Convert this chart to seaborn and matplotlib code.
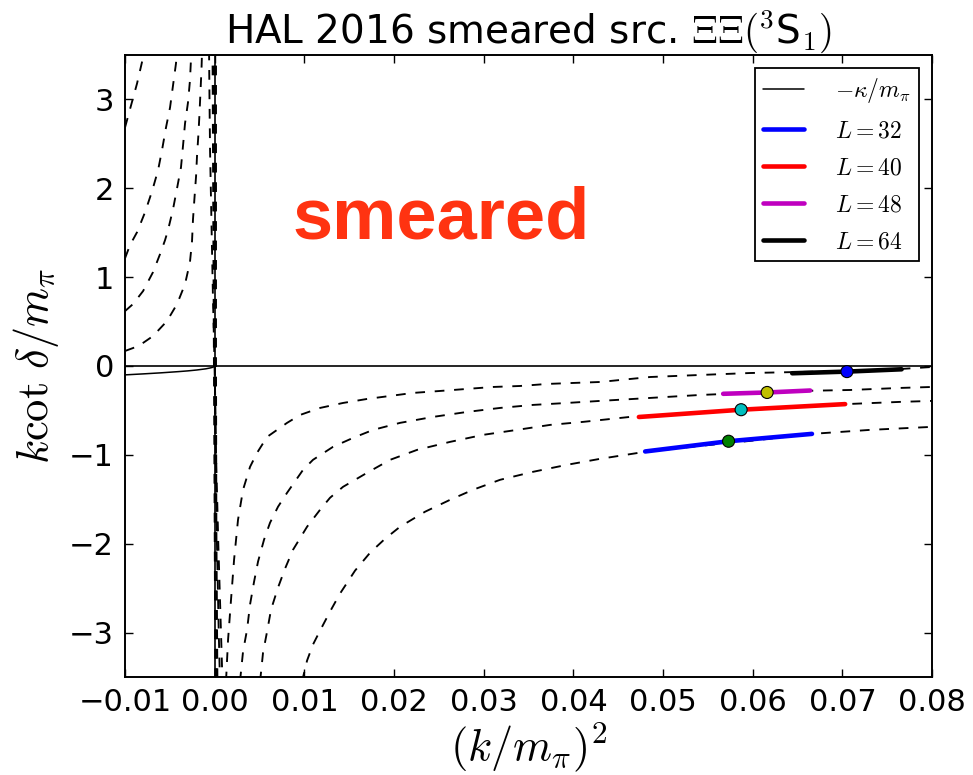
import matplotlib
matplotlib.use("Agg")
import matplotlib.pyplot as plt
import seaborn as sns

# ---------------- data ----------------
# -kappa/m_pi line (x<0)
kappa_x = [-0.010, -0.008, -0.006, -0.004, -0.003, -0.002, -0.001, -0.0005, -0.0002, 0.0]
kappa_y = [-0.100, -0.089, -0.077, -0.063, -0.055, -0.045, -0.032, -0.022, -0.014, 0.0]

# Luscher curves, branch left of the pole (x<0)
l32_left_x = [-0.0100, -0.00933, -0.00866, -0.00799, -0.00777]
l32_left_y = [2.685, 2.933, 3.180, 3.472, 3.55]
l40_left_x = [-0.0100, -0.00945, -0.00866, -0.00777, -0.00699, -0.00632, -0.00588,
              -0.00543, -0.00498, -0.00465, -0.00432, -0.00420]
l40_left_y = [1.213, 1.360, 1.506, 1.730, 1.966, 2.202, 2.427, 2.685, 2.910, 3.157, 3.404, 3.55]
l48_left_x = [-0.0100, -0.00911, -0.00799, -0.00688, -0.00610, -0.00554, -0.00521, -0.00465,
              -0.00420, -0.00376, -0.00353, -0.00331, -0.00298, -0.00276, -0.00260]
l48_left_y = [0.618, 0.697, 0.843, 1.056, 1.258, 1.416, 1.528, 1.764, 2.0, 2.236, 2.483,
              2.730, 2.966, 3.213, 3.55]
l64_left_x = [-0.0100, -0.00911, -0.00833, -0.00688, -0.00532, -0.00420, -0.00331, -0.00276,
              -0.00253, -0.00242, -0.00225, -0.00208, -0.00197, -0.00181, -0.00169, -0.00158,
              -0.00147, -0.00141]
l64_left_y = [0.169, 0.202, 0.236, 0.337, 0.506, 0.697, 0.921, 1.169, 1.404, 1.652, 1.899,
              2.135, 2.371, 2.618, 2.854, 3.101, 3.348, 3.55]
lxx_left_x = [-0.00063, -0.00058, -0.00052, -0.00041, -0.00030, -0.00019, -0.00007, -0.00002]
lxx_left_y = [3.55, 2.989, 2.427, 1.865, 1.303, 0.742, 0.236, 0.0]

# near-vertical pieces at the pole x = 0
pole1_x = [-0.00018, -0.00010, -0.00002, 0.00006, 0.00014]
pole2_x = [0.00008, 0.00008, 0.00008, 0.00012, 0.00024]
pole_y = [3.6, 1.8, 0.0, -1.8, -3.6]
steep1_x = [0.0000, 0.00010, 0.00025, 0.00045, 0.00060]
steep2_x = [0.0000, 0.00015, 0.00040, 0.00070, 0.00088]
steep_y = [0.0, -1.0, -2.0, -3.0, -3.6]

# Luscher curves, branch right of the pole (x>0)
l32_right_x = [0.00974, 0.01030, 0.01096, 0.01175, 0.01286, 0.01397, 0.01565, 0.01733, 0.01900,
               0.02067, 0.02346, 0.02625, 0.02881, 0.03182, 0.03550, 0.03929, 0.04297, 0.04799,
               0.05413, 0.05970, 0.06662, 0.07309, 0.08000]
l32_right_y = [-3.55, -3.315, -3.135, -2.978, -2.764, -2.562, -2.303, -2.101, -1.944, -1.809,
               -1.640, -1.506, -1.393, -1.281, -1.191, -1.112, -1.045, -0.966, -0.899, -0.843,
               -0.764, -0.719, -0.685]
l40_right_x = [0.00506, 0.00539, 0.00584, 0.00628, 0.00706, 0.00784, 0.00874, 0.01030, 0.01175,
               0.01286, 0.01431, 0.01699, 0.01956, 0.02257, 0.02625, 0.02993, 0.03372, 0.03740,
               0.04108, 0.04632, 0.04855, 0.05413, 0.05970, 0.06528, 0.07086, 0.07643, 0.08000]
l40_right_y = [-3.55, -3.225, -2.989, -2.742, -2.494, -2.281, -2.067, -1.809, -1.618, -1.483,
               -1.360, -1.202, -1.056, -0.944, -0.854, -0.775, -0.719, -0.663, -0.629, -0.573,
               -0.562, -0.528, -0.494, -0.461, -0.427, -0.404, -0.393]
l48_right_x = [0.00282, 0.00316, 0.00361, 0.00394, 0.00439, 0.00483, 0.00550, 0.00617, 0.00706,
               0.00807, 0.00985, 0.01096, 0.01319, 0.01543, 0.01767, 0.02067, 0.02435, 0.02814,
               0.03182, 0.03550, 0.03929, 0.04297, 0.04665, 0.05045, 0.05413, 0.05970, 0.06528,
               0.07086, 0.07643, 0.08000]
l48_right_y = [-3.55, -3.213, -2.966, -2.685, -2.427, -2.202, -1.955, -1.764, -1.584, -1.427,
               -1.169, -1.056, -0.910, -0.809, -0.719, -0.640, -0.573, -0.517, -0.472, -0.438,
               -0.416, -0.393, -0.371, -0.348, -0.326, -0.303, -0.281, -0.270, -0.247, -0.236]
l64_right_x = [0.00126, 0.00149, 0.00182, 0.00216, 0.00260, 0.00316, 0.00394, 0.00472, 0.00584,
               0.00807, 0.00952, 0.01175, 0.01431, 0.01699, 0.01956, 0.02212, 0.02513, 0.02814,
               0.03104, 0.03405, 0.03706, 0.03996, 0.04297, 0.04855, 0.05413, 0.05970, 0.06528,
               0.07086, 0.07643, 0.08000]
l64_right_y = [-3.55, -3.079, -2.629, -2.180, -1.730, -1.393, -1.135, -0.978, -0.798, -0.640,
               -0.551, -0.472, -0.416, -0.371, -0.337, -0.303, -0.281, -0.258, -0.236, -0.225,
               -0.202, -0.191, -0.180, -0.124, -0.101, -0.079, -0.067, -0.056, -0.034, -0.011]

# lattice results: fit-range bands (lo, central, hi) and central points
band32_x = [0.0480, 0.0573, 0.0666]
band32_y = [-0.962, -0.847, -0.764]
band40_x = [0.0473, 0.0587, 0.0703]
band40_y = [-0.574, -0.492, -0.429]
band48_x = [0.0567, 0.0616, 0.0664]
band48_y = [-0.313, -0.298, -0.276]
band64_x = [0.0644, 0.0705, 0.0766]
band64_y = [-0.082, -0.063, -0.037]
point_x = [0.0573, 0.0587, 0.0616, 0.0705]
point_y = [-0.847, -0.492, -0.298, -0.063]
point_L = ["32", "40", "48", "64"]

legend_labels = [r"$-\kappa/m_\pi$", r"$L=32$", r"$L=40$", r"$L=48$", r"$L=64$"]
xtick_vals = [-0.01, 0.0, 0.01, 0.02, 0.03, 0.04, 0.05, 0.06, 0.07, 0.08]
xtick_labels = ["\u22120.01", "0.00", "0.01", "0.02", "0.03", "0.04", "0.05", "0.06", "0.07", "0.08"]
ytick_vals = [-3, -2, -1, 0, 1, 2, 3]
ytick_labels = ["\u22123", "\u22122", "\u22121", "0", "1", "2", "3"]

# ---------------- style ----------------
sns.set_style("ticks")
plt.rcParams.update({
    "font.family": ["DejaVu Sans"],
    "mathtext.fontset": "cm",
    "lines.scale_dashes": False,
    "axes.linewidth": 1.4,
    "xtick.direction": "in",
    "ytick.direction": "in",
    "xtick.top": True,
    "ytick.right": True,
    "xtick.major.size": 6,
    "ytick.major.size": 6,
    "xtick.major.width": 1.0,
    "ytick.major.width": 1.0,
    "axes.edgecolor": "black",
    "text.color": "black",
    "axes.labelcolor": "black",
    "xtick.color": "black",
    "ytick.color": "black",
})

fig, ax = plt.subplots(figsize=(9.73, 7.75), dpi=100)
fig.subplots_adjust(left=0.1285, right=0.958, bottom=0.1265, top=0.929)

DASH = (0, (7, 7))


def dashed(xs, ys, lw=1.35):
    sns.lineplot(x=xs, y=ys, ax=ax, sort=False, estimator=None, color="black",
                 linewidth=lw, linestyle=DASH, legend=False)


for xs, ys in [(l32_left_x, l32_left_y), (l40_left_x, l40_left_y), (l48_left_x, l48_left_y),
               (l64_left_x, l64_left_y), (lxx_left_x, lxx_left_y),
               (steep1_x, steep_y), (steep2_x, steep_y),
               (l32_right_x, l32_right_y), (l40_right_x, l40_right_y),
               (l48_right_x, l48_right_y), (l64_right_x, l64_right_y)]:
    dashed(xs, ys)
for xs in [pole1_x, pole2_x]:
    dashed(xs, pole_y, lw=2.2)

ax.axhline(0, color="black", lw=1.2, zorder=3)
ax.axvline(0, color="black", lw=1.2, zorder=3)

sns.lineplot(x=kappa_x, y=kappa_y, ax=ax, sort=False, estimator=None, color="black",
             linewidth=1.1, legend=False)
h_kappa = ax.lines[-1]

handles = [h_kappa]
for bx, by, col in [(band32_x, band32_y, "#0000ff"), (band40_x, band40_y, "#ff0000"),
                    (band48_x, band48_y, "#bf00bf"), (band64_x, band64_y, "#000000")]:
    sns.lineplot(x=bx, y=by, ax=ax, sort=False, estimator=None, color=col,
                 linewidth=3.3, legend=False)
    ax.lines[-1].set_zorder(4)
    handles.append(ax.lines[-1])

sns.scatterplot(x=point_x, y=point_y, hue=point_L, ax=ax,
                palette={"32": "#008000", "40": "#00bfbf", "48": "#bfbf00", "64": "#0000ff"},
                s=75, edgecolor="black", linewidth=0.8, legend=False, zorder=6)

ax.set_xlim(-0.01, 0.08)
ax.set_ylim(-3.5, 3.5)
ax.set_xticks(xtick_vals)
ax.set_xticklabels(xtick_labels)
ax.set_yticks(ytick_vals)
ax.set_yticklabels(ytick_labels)
ax.tick_params(labelsize=22, pad=8)

ax.set_xlabel(r"$(k/m_\pi)^2$", fontsize=32, labelpad=2)
ax.set_ylabel(r"$k\cot\,\delta/m_\pi$", fontsize=32, labelpad=6)
ax.set_title("HAL 2016 smeared src. $\\Xi\\Xi(^3$S$_1)$", fontsize=28, pad=8)

ax.text(0.0252, 1.65, "smeared", color="#ff3311", fontsize=52, fontweight="bold",
        family=["Liberation Sans", "DejaVu Sans"], ha="center", va="center")

leg = ax.legend(handles=handles, labels=legend_labels, loc="upper right", fontsize=17,
                fancybox=False, framealpha=1, edgecolor="black", handlelength=1.75,
                borderpad=0.35, labelspacing=0.55, handletextpad=1.3, borderaxespad=0.55)
leg.get_frame().set_linewidth(1.3)

fig.savefig("out.png", dpi=100)
